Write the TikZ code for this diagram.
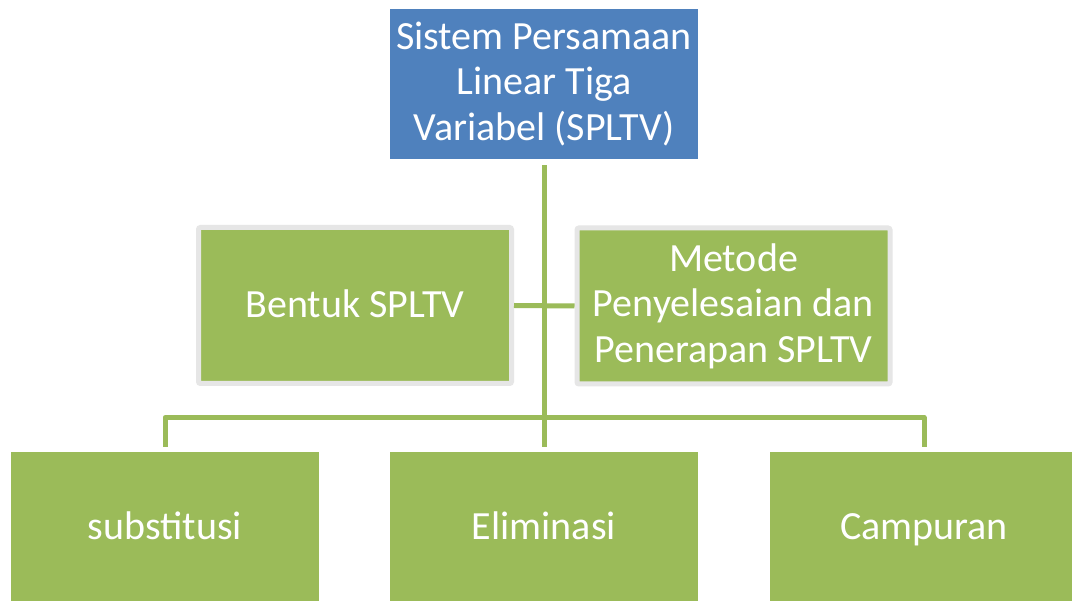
\documentclass[tikz,border=0pt]{standalone}
\usepackage{fontspec}
\setmainfont{Carlito}
\definecolor{sblue}{HTML}{4F81BD}
\definecolor{sgreen}{HTML}{9BBB59}
\definecolor{sgrey}{HTML}{E6E6E6}
\begin{document}
\begin{tikzpicture}[x=1pt,y=-1pt,
  txt/.style={text=white,font=\fontsize{40}{45.5}\selectfont,align=center,inner sep=0pt},
  topbox/.style={txt,fill=sblue,minimum width=308pt,minimum height=150pt},
  midbox/.style={txt,fill=sgreen,draw=sgrey,line width=5pt,rounded corners=2pt,minimum width=313pt,minimum height=156pt},
  botbox/.style={txt,fill=sgreen,minimum width=308pt,minimum height=150pt},
  oneline/.style={text height=25pt,text depth=0pt},
  conn/.style={draw=sgreen,line width=5pt,line join=round}]
\useasboundingbox[fill=white] (0,0) rectangle (1072,601);
\clip (0,0) rectangle (1072,601);
\node[topbox] (top) at (544,84) {Sistem Persamaan\\Linear Tiga\\Variabel (SPLTV)};
\node[midbox,oneline] (bentuk) at (355,305.5) {Bentuk SPLTV};
\node[midbox] (metode) at (733.5,306) {Metode\\Penyelesaian dan\\Penerapan SPLTV};
\node[botbox,oneline] (sub) at (165,527) {substitusi};
\node[botbox,oneline] (elim) at (544,527) {Eliminasi};
\node[botbox,oneline] (camp) at (924,527) {Campuran};
\coordinate (hub) at (545,417.5);
\draw[conn] ([yshift=-6pt]top.south) -- ([yshift=5pt]elim.north);
\draw[conn] (bentuk.east) -- (metode.west);
\draw[conn] ([yshift=5pt]sub.north) |- (hub) -| ([yshift=5pt]camp.north);
\end{tikzpicture}
\end{document}
